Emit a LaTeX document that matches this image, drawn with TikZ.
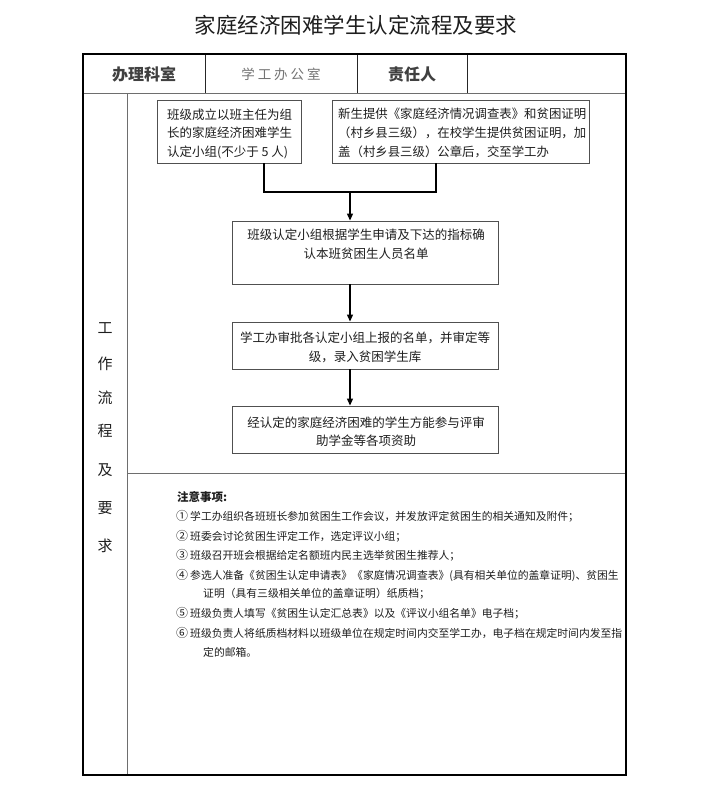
\documentclass[tikz,border=0pt]{standalone}
\usepackage{fontspec}
\setmainfont{Noto Sans CJK SC}
\usetikzlibrary{arrows.meta}
\definecolor{txt}{HTML}{1E1E1E}
\definecolor{boxline}{HTML}{505050}
\definecolor{gridc}{HTML}{6E6E6E}
\tikzset{
  fs/.style={font=\fontsize{#1}{#1}\selectfont},
  flowbox/.style={draw=boxline, line width=0.9pt, inner sep=0pt},
  flowtext/.style={text=txt, align=center, inner sep=0pt, font=\fontsize{12.5}{18.5}\selectfont},
  flowtextl/.style={text=txt, align=left, inner sep=0pt, anchor=west, font=\fontsize{12.4}{19}\selectfont},
  conn/.style={draw=black, line width=1.2pt},
  arr/.style={conn, -{Triangle[length=7pt,width=6pt]}},
  sidech/.style={text=txt, inner sep=0pt, font=\fontsize{15}{15}\selectfont},
  noteline/.style={text=txt, anchor=west, inner sep=0pt, font=\fontsize{10.8}{10.8}\selectfont},
  gridline/.style={draw=gridc, line width=0.8pt},
  hdrline/.style={draw=black!85, line width=0.9pt}
}
\begin{document}
\begin{tikzpicture}[x=1pt,y=-1pt]
\useasboundingbox[fill=white] (0,0) rectangle (710,800);

% title
\node[fs=21.5, text=txt] (title) at (356,25) {家庭经济困难学生认定流程及要求};

% table grid
\draw[gridline] (83,93) -- (626,93);
\draw[hdrline] (205,54) -- (205,93);
\draw[hdrline] (357,54) -- (357,93);
\draw[hdrline] (467,54) -- (467,93);
\draw[gridline] (127,93) -- (127,775);
\draw[gridline] (127,473) -- (626,473);
\draw[line width=1.7pt, black] (83,54) rectangle (626,775);

% header cells
\node[fs=16, text=black!75] (h1) at (144,74) {\bfseries 办理科室};
\node[fs=13.5, text=black!55] (h2) at (281,74) {学\hspace{3pt}工\hspace{3pt}办\hspace{3pt}公\hspace{3pt}室};
\node[fs=16, text=black!75] (h3) at (412,74) {\bfseries 责任人};

% side column
\node[sidech] (s1) at (105,328) {工};
\node[sidech] (s2) at (105,364) {作};
\node[sidech] (s3) at (105,398) {流};
\node[sidech] (s4) at (105,431) {程};
\node[sidech] (s5) at (105,470) {及};
\node[sidech] (s6) at (105,508) {要};
\node[sidech] (s7) at (105,546) {求};

% flow boxes
\node[flowbox, minimum width=144pt, minimum height=63pt] (b1) at (229,131.5) {};
\node[flowbox, minimum width=257pt, minimum height=63pt] (b2) at (460.5,131.5) {};
\node[flowbox, minimum width=266pt, minimum height=63pt] (b3) at (365,252.5) {};
\node[flowbox, minimum width=266pt, minimum height=47pt] (b4) at (365,345.5) {};
\node[flowbox, minimum width=266pt, minimum height=47pt] (b5) at (365,429.5) {};

\node[flowtextl, font=\fontsize{12.5}{18.5}\selectfont] (t1) at (167,133.5) {班级成立以班主任为组\\长的家庭经济困难学生\\认定小组(不少于 5 人)};
\node[flowtextl] (t2) at (338,133) {新生提供《家庭经济情况调查表》和贫困证明\\（村乡县三级），在校学生提供贫困证明，加\\盖（村乡县三级）公章后，交至学工办};
\node[flowtext] (t3) at (366,244) {班级认定小组根据学生申请及下达的指标确\\认本班贫困生人员名单};
\node[flowtext] (t4) at (365,347.5) {学工办审批各认定小组上报的名单，并审定等\\级，录入贫困学生库};
\node[flowtext] (t5) at (366,431.5) {经认定的家庭经济困难的学生方能参与评审\\助学金等各项资助};

% connectors
\coordinate (c1) at (264,192);
\coordinate (c2) at (436,192);
\coordinate (jn) at (350,192);
\draw[conn] (b1.south -| c1) -- (c1) -- (c2) -- (b2.south -| c2);
\draw[arr] (jn) -- (b3.north -| jn);
\draw[arr] (b3.south -| jn) -- (b4.north -| jn);
\draw[arr] (b4.south -| jn) -- (b5.north -| jn);

% notes
\node[noteline, font=\fontsize{11.5}{11.5}\selectfont\bfseries] (nt) at (177,497) {注意事项:};
\node[noteline] (n1) at (176,516) {\makebox[14pt][l]{\fontsize{12}{12}\selectfont ①}学工办组织各班班长参加贫困生工作会议，并发放评定贫困生的相关通知及附件；};
\node[noteline] (n2) at (176,536) {\makebox[14pt][l]{\fontsize{12}{12}\selectfont ②}班委会讨论贫困生评定工作，选定评议小组；};
\node[noteline] (n3) at (176,555) {\makebox[14pt][l]{\fontsize{12}{12}\selectfont ③}班级召开班会根据给定名额班内民主选举贫困生推荐人；};
\node[noteline] (n4) at (176,575) {\makebox[14pt][l]{\fontsize{12}{12}\selectfont ④}参选人准备《贫困生认定申请表》《家庭情况调查表》(具有相关单位的盖章证明)、贫困生};
\node[noteline] (n4b) at (203,594) {证明（具有三级相关单位的盖章证明）纸质档；};
\node[noteline] (n5) at (176,613) {\makebox[14pt][l]{\fontsize{12}{12}\selectfont ⑤}班级负责人填写《贫困生认定汇总表》以及《评议小组名单》电子档；};
\node[noteline] (n6) at (176,633) {\makebox[14pt][l]{\fontsize{12}{12}\selectfont ⑥}班级负责人将纸质档材料以班级单位在规定时间内交至学工办，电子档在规定时间内发至指};
\node[noteline] (n6b) at (203,652) {定的邮箱。};
\end{tikzpicture}
\end{document}
